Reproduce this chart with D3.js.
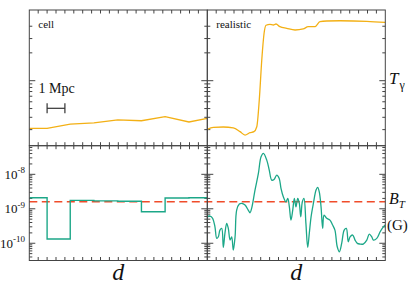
<!DOCTYPE html>
<html>
<head>
<meta charset="utf-8">
<script src="https://cdn.jsdelivr.net/npm/d3@7"></script>
<style>
  body { margin: 0; background: #fff; }
  svg { display: block; }
  text { font-family: "Liberation Serif", "Times New Roman", "DejaVu Serif", serif; fill: #111; }
</style>
</head>
<body>
<svg id="chart" width="415" height="292"></svg>
<script>
// ---- data (d in Mpc) ----
// cell model: cell edges and temperature at those edges
const cellEdges = [0, 1.0, 2.3, 3.63, 4.97, 6.3, 7.63, 8.97, 10]
const cellT = [2.09, 2.09, 2.40, 2.49, 2.75, 2.68, 3.06, 2.57, 2.90]
// field per cell (G)
const cellB = [2.1e-9, 1.33e-10, 1.75e-9, 1.7e-9, 1.65e-9, 8.2e-10, 2.05e-9, 2.1e-9]

// realistic model, temperature
const realTd = [0, 0.34, 0.9, 1.46, 1.84, 2.12, 2.4, 2.62, 2.78, 2.92, 3.06, 3.19, 3.3, 3.52, 3.71, 3.86,
  4.08, 4.46, 4.93, 5.39, 5.67, 6.05, 6.33, 6.71, 7.46, 8.96, 10]
const realT = [2.02, 2.16, 2.18, 2.12, 1.87, 1.67, 1.81, 1.87, 2.2, 5.3, 19.8, 47.6, 61.9, 63.9, 62.5, 64.6,
  59.1, 56.0, 53.0, 54.8, 59.1, 59.1, 69.7, 71.3, 71.9, 70.6, 68.3]

// realistic model, log10 of field (G)
const realBd = [0, 0.02, 0.15, 0.3, 0.43, 0.53, 0.62, 0.71, 0.81, 0.9, 0.99, 1.09, 1.18, 1.28, 1.37, 1.46,
  1.56, 1.65, 1.8, 1.93, 2.12, 2.3, 2.4, 2.49, 2.68, 2.87, 3.02, 3.15, 3.34, 3.48, 3.62, 3.75, 3.9, 4.04,
  4.14, 4.27, 4.42, 4.52, 4.61, 4.7, 4.8, 4.89, 4.98, 5.08, 5.17, 5.25, 5.34, 5.43, 5.54, 5.64, 5.73,
  5.83, 5.96, 6.11, 6.2, 6.29, 6.39, 6.48, 6.56, 6.71, 6.89, 7.04, 7.17, 7.3, 7.42, 7.55, 7.69, 7.81,
  7.92, 8.02, 8.17, 8.3, 8.43, 8.58, 8.76, 8.96, 9.1, 9.24, 9.33, 9.52, 9.71, 9.87, 10]
const realLogB = [-9.907, -9.232, -9.212, -9.278, -9.522, -9.858, -9.812, -9.617, -9.568, -10.119, -9.713,
  -9.423, -9.568, -9.907, -9.812, -10.197, -9.812, -9.038, -8.864, -8.843, -8.893, -9.038, -9.116, -8.988,
  -8.458, -7.974, -7.493, -7.394, -7.588, -7.878, -8.168, -8.148, -8.023, -8.119, -8.409, -8.652, -8.797,
  -8.699, -8.942, -9.328, -9.038, -8.699, -8.942, -8.699, -8.843, -9.232, -8.797, -8.699, -9.423, -10.119,
  -9.713, -9.232, -8.843, -8.458, -8.38, -8.507, -8.942, -9.568, -9.183, -9.278, -9.328, -9.472, -9.617,
  -10.101, -10.246, -10.003, -9.617, -9.568, -9.957, -9.812, -9.762, -9.907, -10.003, -10.023, -10.023,
  -9.907, -9.733, -9.812, -9.907, -9.858, -9.667, -9.539, -9.472]

const bRef = 1.6e-9
const panelNames = ['cell', 'realistic']
const tMajor = [10]
const tMinor = [2, 3, 4, 5, 6, 7, 8, 9, 25, 40, 60]
const bMajorExp = [-10, -9, -8]

// ---- layout ----
const svg = d3.select('#chart')
const serif = '"Liberation Serif", "Times New Roman", "DejaVu Serif", serif'
const x0 = 29.3, xm = 207.3, x1 = 385.3
const yTop = 10, yMid = 145.7, yBot = 260.5
const frame = '#444'
const orange = '#f3b015', green = '#1ca788', red = '#f04c2a'

const xs = [
  d3.scaleLinear().domain([0, 10]).range([x0, xm]),
  d3.scaleLinear().domain([0, 10]).range([xm, x1])
]
const yT = d3.scaleLog().domain([Math.pow(10, 1 - 65 / 70), Math.pow(10, 1 + 70.7 / 70)]).range([yMid, yTop])
const yB = d3.scaleLog().domain([Math.pow(10, -10.5), Math.pow(10, -7.17)]).range([yBot, yMid])

// minor ticks for B axis
const bMinor = []
for (let e = -11; e <= -8; e++) {
  for (let m = 2; m <= 9; m++) {
    const v = m * Math.pow(10, e)
    if (v > yB.domain()[0] && v < yB.domain()[1]) bMinor.push(v)
  }
}
const xTicks = d3.range(0.5, 10, 0.5)
const boxes = [[x0, yTop, xm, yMid], [xm, yTop, x1, yMid], [x0, yMid, xm, yBot], [xm, yMid, x1, yBot]]

svg.append('defs').selectAll('clipPath')
  .data(boxes)
  .enter().append('clipPath')
  .attr('id', (d, i) => 'clip' + i)
  .append('rect')
  .attr('x', d => d[0]).attr('y', d => d[1])
  .attr('width', d => d[2] - d[0]).attr('height', d => d[3] - d[1])

function tickG(xScale, yScale, yTopPx, yBotPx, yMajor, yMinorVals) {
  const g = svg.append('g').attr('stroke', frame).attr('stroke-width', 1)
  const xl = xScale.range()[0], xr = xScale.range()[1]
  // x ticks top + bottom
  xTicks.forEach(t => {
    const xp = xScale(t)
    g.append('line').attr('x1', xp).attr('x2', xp).attr('y1', yTopPx).attr('y2', yTopPx + 3.5)
    g.append('line').attr('x1', xp).attr('x2', xp).attr('y1', yBotPx).attr('y2', yBotPx - 3.5)
  })
  // y ticks left + right
  yMajor.forEach(v => {
    const yp = yScale(v)
    g.append('line').attr('x1', xl).attr('x2', xl + 6).attr('y1', yp).attr('y2', yp)
    g.append('line').attr('x1', xr).attr('x2', xr - 6).attr('y1', yp).attr('y2', yp)
  })
  yMinorVals.forEach(v => {
    const yp = yScale(v)
    g.append('line').attr('x1', xl).attr('x2', xl + 3).attr('y1', yp).attr('y2', yp)
    g.append('line').attr('x1', xr).attr('x2', xr - 3).attr('y1', yp).attr('y2', yp)
  })
}

const bMajor = bMajorExp.map(e => Math.pow(10, e))
xs.forEach(xScale => {
  tickG(xScale, yT, yTop, yMid, tMajor, tMinor)
  tickG(xScale, yB, yMid, yBot, bMajor, bMinor)
})

// reference field line
svg.append('line')
  .attr('x1', x0).attr('x2', x1)
  .attr('y1', yB(bRef)).attr('y2', yB(bRef))
  .attr('stroke', red).attr('stroke-width', 1.5)
  .attr('stroke-dasharray', '8,4.5')

// cell temperature
svg.append('path')
  .datum(cellEdges.map((d, i) => [d, cellT[i]]))
  .attr('clip-path', 'url(#clip0)')
  .attr('fill', 'none').attr('stroke', orange).attr('stroke-width', 1.3)
  .attr('d', d3.line().x(d => xs[0](d[0])).y(d => yT(d[1])))

// cell field, stepped
const cellStep = cellEdges.map((d, i) => [d, cellB[Math.min(i, cellB.length - 1)]])
svg.append('path')
  .datum(cellStep)
  .attr('clip-path', 'url(#clip2)')
  .attr('fill', 'none').attr('stroke', green).attr('stroke-width', 1.4)
  .attr('d', d3.line().curve(d3.curveStepAfter).x(d => xs[0](d[0])).y(d => yB(d[1])))

// realistic temperature
svg.append('path')
  .datum(realTd.map((d, i) => [d, realT[i]]))
  .attr('clip-path', 'url(#clip1)')
  .attr('fill', 'none').attr('stroke', orange).attr('stroke-width', 1.3)
  .attr('d', d3.line().curve(d3.curveMonotoneX).x(d => xs[1](d[0])).y(d => yT(d[1])))

// realistic field
svg.append('path')
  .datum(realBd.map((d, i) => [d, Math.pow(10, realLogB[i])]))
  .attr('clip-path', 'url(#clip3)')
  .attr('fill', 'none').attr('stroke', green).attr('stroke-width', 1.3)
  .attr('d', d3.line().curve(d3.curveCatmullRom).x(d => xs[1](d[0])).y(d => yB(d[1])))

// frames
svg.append('g').attr('fill', 'none').attr('stroke', frame).attr('stroke-width', 1)
  .selectAll('rect')
  .data(boxes)
  .enter().append('rect')
  .attr('x', d => d[0]).attr('y', d => d[1])
  .attr('width', d => d[2] - d[0]).attr('height', d => d[3] - d[1])

// panel names
panelNames.forEach((name, i) => {
  svg.append('text')
    .attr('x', xs[i](0) + 9).attr('y', 28)
    .attr('font-family', serif)
    .style('font-size', '11px')
    .text(name)
})

// scale bar 1 Mpc
const barY = 108.3
svg.append('g').attr('stroke', '#333').attr('stroke-width', 1.2)
  .call(g => {
    g.append('line').attr('x1', xs[0](1)).attr('x2', xs[0](2)).attr('y1', barY).attr('y2', barY)
    g.append('line').attr('x1', xs[0](1)).attr('x2', xs[0](1)).attr('y1', barY - 5).attr('y2', barY + 5)
    g.append('line').attr('x1', xs[0](2)).attr('x2', xs[0](2)).attr('y1', barY - 5).attr('y2', barY + 5)
  })
svg.append('text').attr('x', 38.5).attr('y', 93)
  .attr('font-family', serif)
  .style('font-size', '14px')
  .text('1 Mpc')

// B axis labels
bMajorExp.forEach(e => {
  const t = svg.append('text')
    .attr('x', 25).attr('y', yB(Math.pow(10, e)) + 4.5)
    .attr('text-anchor', 'end')
    .attr('font-family', serif)
    .style('font-size', '13px')
  t.append('tspan').text('10')
  t.append('tspan').attr('dy', -5.5).style('font-size', '9px').text(String(e))
})

// right side labels
const tg = svg.append('text').attr('x', 389).attr('y', 84).attr('font-family', serif).style('font-size', '17px')
tg.append('tspan').style('font-style', 'italic').text('T')
tg.append('tspan').attr('dy', 5).attr('dx', 1).style('font-size', '12px').text('γ')

const bt = svg.append('text').attr('x', 389).attr('y', 203.5).attr('font-family', serif).style('font-size', '16px')
bt.append('tspan').style('font-style', 'italic').text('B')
bt.append('tspan').attr('dy', 4).style('font-size', '11px').style('font-style', 'italic').text('T')

svg.append('text').attr('x', 387).attr('y', 229.5).attr('font-family', serif).style('font-size', '15px').text('(G)')

// x labels
xs.forEach(xScale => {
  svg.append('text')
    .attr('x', xScale(5)).attr('y', 280)
    .attr('text-anchor', 'middle')
    .attr('font-family', serif)
    .style('font-size', '24px').style('font-style', 'italic')
    .text('d')
})
</script>
</body>
</html>
